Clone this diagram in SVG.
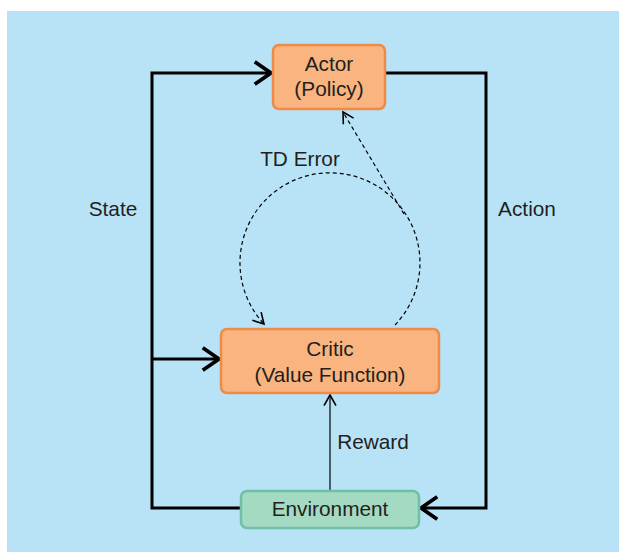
<svg xmlns="http://www.w3.org/2000/svg" width="619" height="552" viewBox="0 0 619 552">
<style>
.box{stroke-width:2.5}
.actor,.critic{fill:#F9B47F;stroke:#EE8B47}
.env{fill:#A4D9C2;stroke:#72BFA9}
text{font-family:"Liberation Sans",Arial,sans-serif;font-size:20.8px;fill:#231F20;text-anchor:middle}
.thick{fill:none;stroke:#000;stroke-width:3}
.thin{fill:none;stroke:#000;stroke-width:1.2}
.dash{fill:none;stroke:#000;stroke-width:1.2;stroke-dasharray:4 3}
</style>
<defs>
<marker id="big" markerUnits="userSpaceOnUse" markerWidth="30" markerHeight="30" viewBox="-16 -12 20 24" refX="0" refY="0" orient="auto">
<path d="M-13,-9 L0,0 L-13,9" fill="none" stroke="#000" stroke-width="3"/>
</marker>
<marker id="small" markerUnits="userSpaceOnUse" markerWidth="16" markerHeight="16" viewBox="-10 -6 12 12" refX="0" refY="0" orient="auto">
<path d="M-8,-4.5 L0,0 L-8,4.5" fill="none" stroke="#000" stroke-width="1.2"/>
</marker>
</defs>
<rect x="7" y="11" width="612" height="541" fill="#B8E3F7"/>
<g id="connectors">
<polyline class="thick" points="241,508 152,508 152,73 271,73" marker-end="url(#big)"/>
<line class="thick" x1="152" y1="359" x2="219" y2="359" marker-end="url(#big)"/>
<polyline class="thick" points="386,73 486,73 486,508 421,508" marker-end="url(#big)"/>
<line class="thin" x1="330" y1="491" x2="330" y2="395" marker-end="url(#small)"/>
<path class="dash" d="M395,325 A90,90 0 1 0 264,324" marker-end="url(#small)"/>
<line class="dash" x1="404" y1="214" x2="343" y2="112" marker-end="url(#small)"/>
</g>
<g id="actor">
<rect class="box actor" x="273" y="45" width="112" height="64" rx="6"/>
<text x="329" y="71">Actor</text>
<text x="329" y="96">(Policy)</text>
</g>
<g id="critic">
<rect class="box critic" x="221" y="329" width="218" height="64" rx="6"/>
<text x="330" y="356">Critic</text>
<text x="330" y="382">(Value Function)</text>
</g>
<g id="environment">
<rect class="box env" x="241" y="491" width="178" height="37" rx="6"/>
<text x="330" y="516">Environment</text>
</g>
<g id="labels">
<text x="300" y="166">TD Error</text>
<text x="113" y="216">State</text>
<text x="527" y="216">Action</text>
<text x="373" y="449">Reward</text>
</g>
</svg>
